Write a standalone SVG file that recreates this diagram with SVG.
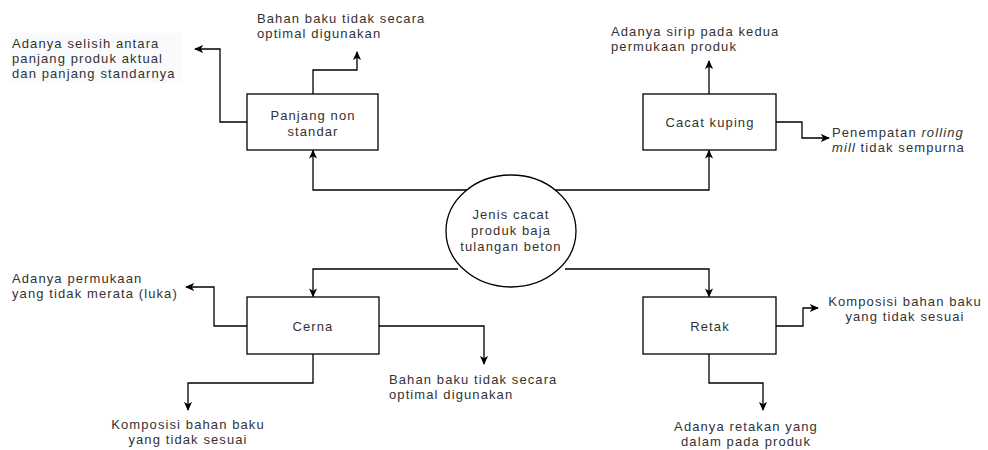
<svg xmlns="http://www.w3.org/2000/svg" width="988" height="450" viewBox="0 0 988 450">
<defs>
<marker id="arr" viewBox="0 0 10 10" refX="9" refY="5" markerWidth="9" markerHeight="9" markerUnits="userSpaceOnUse" orient="auto">
<path d="M0,0.5 L10,5 L0,9.5 L2.5,5 z" fill="#000"/>
</marker>
<style>
.box{fill:#fff;stroke:#000;stroke-width:1.3}
.c{fill:none;stroke:#000;stroke-width:1.3;marker-end:url(#arr)}
text{font-family:"Liberation Sans",Arial,sans-serif;font-size:13px;fill:#333;letter-spacing:1.1px}
.m{text-anchor:middle}
</style>
</defs>
<rect width="988" height="450" fill="#fff"/>
<rect x="10" y="33" width="172" height="50" fill="#f9fafb"/>

<g id="connectors">
<path class="c" d="M467,190 H313 V150.5"/>
<path class="c" d="M555,190 H709 V150.5"/>
<path class="c" d="M458,269 H313 V296.5"/>
<path class="c" d="M565,269 H709 V296.5"/>
<path class="c" d="M247,122 H220 V49 H195"/>
<path class="c" d="M313,94 V70 H357 V52"/>
<path class="c" d="M709,94 V61"/>
<path class="c" d="M776,122 H802 V138 H829"/>
<path class="c" d="M247,326 H214 V287 H186"/>
<path class="c" d="M313,354 V383 H188 V410"/>
<path class="c" d="M379,326 H484 V364"/>
<path class="c" d="M776,326 H803 V308 H818"/>
<path class="c" d="M709,354 V383 H763 V410"/>
</g>

<g id="center">
<ellipse cx="511" cy="231" rx="65" ry="56" fill="#fff" stroke="#000" stroke-width="1.3"/>
<text class="m" x="511" y="219">Jenis cacat</text>
<text class="m" x="511" y="235">produk baja</text>
<text class="m" x="511" y="251">tulangan beton</text>
</g>

<g id="panjang">
<rect class="box" x="247" y="94" width="131" height="56"/>
<text class="m" x="313" y="120">Panjang non</text>
<text class="m" x="313" y="136">standar</text>
</g>

<g id="kuping">
<rect class="box" x="643" y="94" width="133" height="56"/>
<text class="m" x="710" y="127">Cacat kuping</text>
</g>

<g id="cerna">
<rect class="box" x="247" y="297" width="132" height="57"/>
<text class="m" x="313" y="331">Cerna</text>
</g>

<g id="retak">
<rect class="box" x="643" y="297" width="133" height="57"/>
<text class="m" x="710" y="331">Retak</text>
</g>

<g id="label-selisih">
<text x="12" y="48">Adanya selisih antara</text>
<text x="12" y="63">panjang produk aktual</text>
<text x="12" y="78">dan panjang standarnya</text>
</g>
<g id="label-bahan1">
<text x="257" y="23">Bahan baku tidak secara</text>
<text x="257" y="38">optimal digunakan</text>
</g>
<g id="label-sirip">
<text x="611" y="36">Adanya sirip pada kedua</text>
<text x="611" y="51">permukaan produk</text>
</g>
<g id="label-rolling">
<text x="832" y="137">Penempatan <tspan font-style="italic">rolling</tspan></text>
<text x="832" y="152"><tspan font-style="italic">mill</tspan> tidak sempurna</text>
</g>
<g id="label-luka">
<text x="12" y="283">Adanya permukaan</text>
<text x="12" y="298">yang tidak merata (luka)</text>
</g>
<g id="label-komposisi1">
<text class="m" x="188" y="429">Komposisi bahan baku</text>
<text class="m" x="188" y="444">yang tidak sesuai</text>
</g>
<g id="label-bahan2">
<text x="389" y="384">Bahan baku tidak secara</text>
<text x="389" y="399">optimal digunakan</text>
</g>
<g id="label-komposisi2">
<text class="m" x="905" y="306">Komposisi bahan baku</text>
<text class="m" x="905" y="321">yang tidak sesuai</text>
</g>
<g id="label-retakan">
<text class="m" x="746" y="431">Adanya retakan yang</text>
<text class="m" x="746" y="446">dalam pada produk</text>
</g>
</svg>
